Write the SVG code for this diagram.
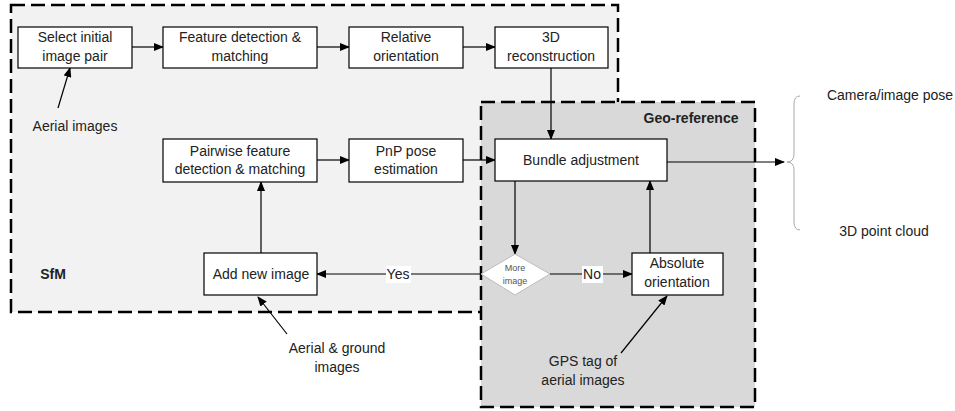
<svg xmlns="http://www.w3.org/2000/svg" width="955" height="411" viewBox="0 0 955 411">
  <style>
    .region { stroke: #000; stroke-width: 2.5; stroke-dasharray: 14 6; }
    .box { fill: #fff; stroke: #000; stroke-width: 1.2; }
    .t { font-family: "Liberation Sans", Arial, sans-serif; font-size: 14px; fill: #222; text-anchor: middle; }
    .b { font-weight: bold; }
    .edge { stroke: #000; stroke-width: 1.2; fill: none; }
    .lbl { fill: #fff; }
  </style>
  <defs>
    <marker id="arr" markerWidth="10" markerHeight="8" refX="9" refY="4" orient="auto" markerUnits="userSpaceOnUse">
      <path d="M0,0 L10,4 L0,8 Z" fill="#000"/>
    </marker>
  </defs>

  <!-- SfM region -->
  <g id="sfm-region">
    <rect class="region" x="11" y="5" width="607" height="307" fill="#f2f2f2"/>
    <text class="t b" x="53" y="279">SfM</text>
  </g>

  <!-- Geo-reference region -->
  <g id="geo-region">
    <rect class="region" x="481" y="102" width="274" height="305" fill="#d9d9d9"/>
    <text class="t b" x="691" y="123">Geo-reference</text>
  </g>

  <!-- connectors -->
  <g id="connectors">
    <line class="edge" x1="132" y1="47" x2="163" y2="47" marker-end="url(#arr)"/>
    <line class="edge" x1="317" y1="47" x2="349" y2="47" marker-end="url(#arr)"/>
    <line class="edge" x1="463" y1="47" x2="495" y2="47" marker-end="url(#arr)"/>
    <line class="edge" x1="551" y1="68" x2="551" y2="139" marker-end="url(#arr)"/>
    <line class="edge" x1="317" y1="160" x2="349" y2="160" marker-end="url(#arr)"/>
    <line class="edge" x1="463" y1="160" x2="495" y2="160" marker-end="url(#arr)"/>
    <line class="edge" x1="261" y1="253" x2="261" y2="182" marker-end="url(#arr)"/>
    <line class="edge" x1="515" y1="181" x2="515" y2="254" marker-end="url(#arr)"/>
    <line class="edge" x1="481" y1="274" x2="317" y2="274" marker-end="url(#arr)"/>
    <line class="edge" x1="550" y1="274" x2="632" y2="274" marker-end="url(#arr)"/>
    <line class="edge" x1="650" y1="253" x2="650" y2="181" marker-end="url(#arr)"/>
    <line class="edge" x1="667" y1="162" x2="784" y2="162" marker-end="url(#arr)"/>
    <line class="edge" x1="58" y1="108" x2="70" y2="68" marker-end="url(#arr)"/>
    <line class="edge" x1="287" y1="334" x2="258" y2="297" marker-end="url(#arr)"/>
    <line class="edge" x1="621" y1="353" x2="667" y2="296" marker-end="url(#arr)"/>
    <rect class="lbl" x="386" y="266" width="25" height="17"/>
    <text class="t" x="398" y="279">Yes</text>
    <rect class="lbl" x="582" y="266" width="21" height="17"/>
    <text class="t" x="592" y="279">No</text>
  </g>

  <g id="select-pair">
    <rect class="box" x="18" y="27" width="114" height="41"/>
    <text class="t" x="75" y="42">Select initial</text>
    <text class="t" x="75" y="61">image pair</text>
  </g>
  <g id="feature-matching">
    <rect class="box" x="163" y="27" width="154" height="41"/>
    <text class="t" x="240" y="42">Feature detection &amp;</text>
    <text class="t" x="240" y="61">matching</text>
  </g>
  <g id="relative-orientation">
    <rect class="box" x="349" y="27" width="114" height="41"/>
    <text class="t" x="406" y="42">Relative</text>
    <text class="t" x="406" y="61">orientation</text>
  </g>
  <g id="reconstruction-3d">
    <rect class="box" x="495" y="27" width="113" height="41"/>
    <text class="t" x="551" y="42">3D</text>
    <text class="t" x="551" y="61">reconstruction</text>
  </g>
  <g id="pairwise-matching">
    <rect class="box" x="163" y="139" width="154" height="43"/>
    <text class="t" x="240" y="156">Pairwise feature</text>
    <text class="t" x="240" y="174">detection &amp; matching</text>
  </g>
  <g id="pnp-pose">
    <rect class="box" x="349" y="139" width="114" height="43"/>
    <text class="t" x="406" y="156">PnP pose</text>
    <text class="t" x="406" y="174">estimation</text>
  </g>
  <g id="bundle-adjustment">
    <rect class="box" x="495" y="139" width="172" height="42"/>
    <text class="t" x="581" y="165">Bundle adjustment</text>
  </g>
  <g id="add-new-image">
    <rect class="box" x="204" y="253" width="113" height="42"/>
    <text class="t" x="261" y="279">Add new image</text>
  </g>
  <g id="more-image">
    <polygon points="515,254 550,274 515,295 481,274" fill="#fff" stroke="#bbb" stroke-width="1"/>
    <text class="t" x="515" y="271" style="font-size:9px;fill:#555">More</text>
    <text class="t" x="515" y="284" style="font-size:9px;fill:#555">image</text>
  </g>
  <g id="absolute-orientation">
    <rect class="box" x="632" y="253" width="91" height="42"/>
    <text class="t" x="677" y="268">Absolute</text>
    <text class="t" x="677" y="287">orientation</text>
  </g>

  <g id="aerial-images">
    <text class="t" x="75" y="131">Aerial images</text>
  </g>
  <g id="aerial-ground">
    <text class="t" x="337" y="353">Aerial &amp; ground</text>
    <text class="t" x="337" y="372">images</text>
  </g>
  <g id="gps-tag">
    <text class="t" x="583" y="366">GPS tag of</text>
    <text class="t" x="583" y="385">aerial images</text>
  </g>

  <g id="outputs">
    <path d="M800,96 Q794,96 794,104 L794,154 Q794,162 787,162 Q794,162 794,170 L794,222 Q794,230 800,230" fill="none" stroke="#aaa" stroke-width="1"/>
    <text class="t" x="890" y="100">Camera/image pose</text>
    <text class="t" x="884" y="236">3D point cloud</text>
  </g>
</svg>
